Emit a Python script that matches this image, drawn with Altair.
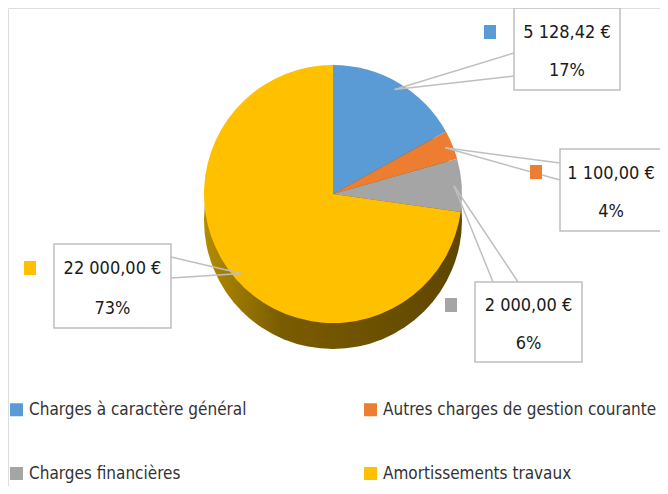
import altair as alt
import pandas as pd
import numpy as np

# ---------------- data ----------------
categories = [
    "Charges à caractère général",
    "Autres charges de gestion courante",
    "Charges financières",
    "Amortissements travaux",
]
amounts = [5128.42, 1100.00, 2000.00, 22000.00]
pct_labels = ["17%", "4%", "6%", "73%"]
colors = ["#5b9bd5", "#ed7d31", "#a5a5a5", "#ffc000"]


def fr_money(v):
    s = f"{v:,.2f}".replace(",", " ").replace(".", ",")
    return s + " €"


# ---------------- layout (chart pixel coords = page - 8) ----------------
W, H = 652, 478
CX, CY, R, DEPTH = 325, 186, 129, 26
FONT = "DejaVu Sans Condensed, Liberation Sans Narrow, Roboto, sans-serif"

# callout boxes: x0, x1, y0, y1 ; wedge base points ; marker centre
box_x0 = [506, 552, 467, 46]
box_x1 = [612, 654, 574, 163]
box_y0 = [0, 141, 274, 236]
box_y1 = [82, 223, 354, 320]
base_ax = [506, 552, 485, 163]
base_ay = [45, 155, 274, 249]
base_bx = [506, 552, 510, 163]
base_by = [68, 172, 274, 270]
mark_cx = [482, 528, 443, 22]
mark_cy = [24, 164, 297, 260]

# ---------------- derived tables ----------------
df = pd.DataFrame({"category": categories, "amount": amounts, "idx": range(4)})
total = sum(amounts)
frac = np.array(amounts) / total
start = np.concatenate([[0], np.cumsum(frac)[:-1]])
mid = (start + frac / 2) * 2 * np.pi
tip_x = CX + 0.94 * R * np.sin(mid)
tip_y = CY - 0.94 * R * np.cos(mid)

lab = pd.DataFrame({
    "category": categories,
    "color": colors,
    "money": [fr_money(v) for v in amounts],
    "pct": pct_labels,
    "x0": box_x0, "x1": box_x1, "y0": box_y0, "y1": box_y1,
    "cx": [(a + b) / 2 for a, b in zip(box_x0, box_x1)],
    "ty1": [a + (b - a) * 0.30 for a, b in zip(box_y0, box_y1)],
    "ty2": [a + (b - a) * 0.77 for a, b in zip(box_y0, box_y1)],
    "mx0": [c - 6 for c in mark_cx], "mx1": [c + 6 for c in mark_cx],
    "my0": [c - 7 for c in mark_cy], "my1": [c + 7 for c in mark_cy],
})

lines = pd.DataFrame({
    "x": list(tip_x) * 2,
    "y": list(tip_y) * 2,
    "x2": base_ax + base_bx,
    "y2": base_ay + base_by,
})

# ---------------- layers ----------------
side = alt.Chart(pd.DataFrame({"a": [1]})).mark_arc(
    radius=R, theta=0, theta2=2 * np.pi,
    fill=alt.LinearGradient(
        gradient="linear", x1=0, x2=1, y1=0, y2=0,
        stops=[
            alt.GradientStop(color="#b38c00", offset=0),
            alt.GradientStop(color="#7a5c00", offset=0.3),
            alt.GradientStop(color="#5e4600", offset=1),
        ],
    ),
).encode(x=alt.value(CX), y=alt.value(CY + DEPTH))

pie = alt.Chart(df).mark_arc(radius=R, stroke=None).encode(
    theta=alt.Theta("amount:Q", stack=True),
    order=alt.Order("idx:Q"),
    color=alt.Color(
        "category:N",
        scale=alt.Scale(domain=categories, range=colors),
        legend=alt.Legend(
            orient="none", legendX=0, legendY=393, columns=2,
            direction="horizontal",
            columnPadding=115, rowPadding=46, title=None,
            symbolType="square", symbolSize=169, symbolStrokeWidth=0,
            labelFont=FONT, labelFontSize=17, labelColor="#333333",
            labelLimit=0, labelOffset=4,
        ),
    ),
    x=alt.value(CX), y=alt.value(CY),
)

rules = alt.Chart(lines).mark_rule(color="#bfbfbf", strokeWidth=1.5).encode(
    x=alt.X("x:Q", scale=None), y=alt.Y("y:Q", scale=None),
    x2="x2:Q", y2="y2:Q",
)

boxes = alt.Chart(lab).mark_rect(fill="white", stroke="#bfbfbf", strokeWidth=1.5).encode(
    x=alt.X("x0:Q", scale=None), x2="x1:Q",
    y=alt.Y("y0:Q", scale=None), y2="y1:Q",
)

markers = alt.Chart(lab).mark_rect().encode(
    x=alt.X("mx0:Q", scale=None), x2="mx1:Q",
    y=alt.Y("my0:Q", scale=None), y2="my1:Q",
    color=alt.Color("color:N", scale=None),
)

t1 = alt.Chart(lab).mark_text(font=FONT, fontSize=18, color="#1a1a1a", baseline="middle").encode(
    x=alt.X("cx:Q", scale=None), y=alt.Y("ty1:Q", scale=None), text="money:N",
)
t2 = alt.Chart(lab).mark_text(font=FONT, fontSize=18, color="#1a1a1a", baseline="middle").encode(
    x=alt.X("cx:Q", scale=None), y=alt.Y("ty2:Q", scale=None), text="pct:N",
)

chart = alt.layer(side, pie, rules, boxes, markers, t1, t2).properties(
    width=W, height=H, padding=0, autosize="none",
).configure_view(stroke=None).configure(background="white")

chart.save("out.html", embed_options={"renderer": "svg", "actions": False})
